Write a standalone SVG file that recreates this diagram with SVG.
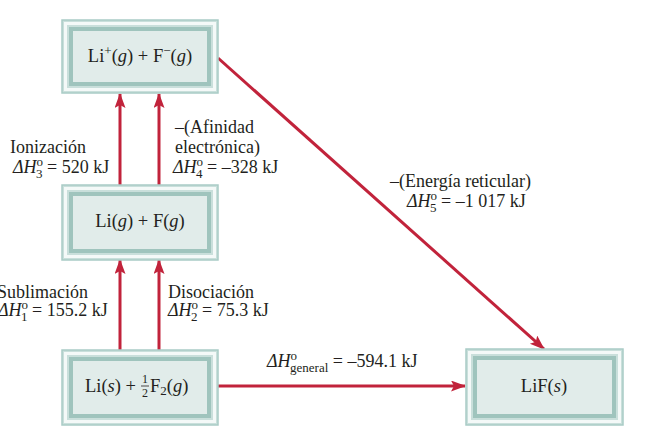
<svg xmlns="http://www.w3.org/2000/svg" width="653" height="437" viewBox="0 0 653 437">
<defs>
<marker id="ah" markerUnits="userSpaceOnUse" markerWidth="16" markerHeight="12" refX="14" refY="5.5" orient="auto">
<path d="M0,0 L15,5.5 L0,11 L3,5.5 z" fill="#c1233b"/>
</marker>
<style>
text{font-family:"Liberation Serif","Times New Roman",serif;fill:#231f20;font-size:18px}
.bt{font-size:18.5px;text-anchor:middle}
.o1{fill:#c9dfdb;stroke:#a9ccc6;stroke-width:1.5}
.o2{fill:none;stroke:#f4f9f8;stroke-width:3}
.o3{fill:#e1ecea;stroke:#9fc4bd;stroke-width:4}
.ar{stroke:#c1233b;stroke-width:3;fill:none;marker-end:url(#ah)}
.s{font-size:13px}
.i{font-style:italic}
</style>
</defs>
<g id="connectors">
<line class="ar" x1="120" y1="185" x2="120" y2="94"/>
<line class="ar" x1="159" y1="185" x2="159" y2="94"/>
<line class="ar" x1="120" y1="350" x2="120" y2="260"/>
<line class="ar" x1="159" y1="350" x2="159" y2="260"/>
<line class="ar" x1="218" y1="386" x2="465" y2="386"/>
<line class="ar" x1="218" y1="58" x2="544" y2="349"/>
</g>
<g id="n1">
<rect class="o1" x="62" y="20" width="156" height="73"/>
<rect class="o2" x="65.5" y="23.5" width="149" height="66"/>
<rect class="o3" x="71" y="29" width="138" height="55"/>
<text class="bt" x="140" y="62">Li<tspan class="s" dy="-7">+</tspan><tspan dy="7">(</tspan><tspan class="i">g</tspan>) + F<tspan class="s" dy="-7">−</tspan><tspan dy="7">(</tspan><tspan class="i">g</tspan>)</text>
</g>
<g id="n2">
<rect class="o1" x="62" y="185" width="156" height="75"/>
<rect class="o2" x="65.5" y="188.5" width="149" height="68"/>
<rect class="o3" x="71" y="194" width="138" height="57"/>
<text class="bt" x="140" y="227">Li(<tspan class="i">g</tspan>) + F(<tspan class="i">g</tspan>)</text>
</g>
<g id="n3">
<rect class="o1" x="62" y="350" width="156" height="75"/>
<rect class="o2" x="65.5" y="353.5" width="149" height="68"/>
<rect class="o3" x="71" y="359" width="138" height="57"/>
<text x="85" y="392" style="font-size:18.5px">Li(<tspan class="i">s</tspan>) +</text>
<text x="145" y="383" style="font-size:12px;text-anchor:middle">1</text>
<line x1="141" y1="386" x2="149" y2="386" stroke="#231f20" stroke-width="0.8"/>
<text x="145" y="397" style="font-size:12px;text-anchor:middle">2</text>
<text x="150" y="392" style="font-size:18.5px">F<tspan class="s" dy="3">2</tspan><tspan dy="-3">(</tspan><tspan class="i">g</tspan>)</text>
</g>
<g id="n4">
<rect class="o1" x="466" y="349" width="157" height="76"/>
<rect class="o2" x="469.5" y="352.5" width="150" height="69"/>
<rect class="o3" x="475" y="358" width="139" height="58"/>
<text class="bt" x="544" y="392">LiF(<tspan class="i">s</tspan>)</text>
</g>
<g id="labels">
<text x="10" y="153">Ionización</text>
<text x="13" y="173"><tspan class="i">ΔH</tspan><tspan class="s" dy="-7">o</tspan><tspan class="s" dx="-7" dy="12">3</tspan><tspan dy="-5"> = 520 kJ</tspan></text>
<text x="175" y="133">–(Afinidad</text>
<text x="175" y="153">electrónica)</text>
<text x="173" y="173"><tspan class="i">ΔH</tspan><tspan class="s" dy="-7">o</tspan><tspan class="s" dx="-7" dy="12">4</tspan><tspan dy="-5"> = –328 kJ</tspan></text>
<text x="-3" y="298">Sublimación</text>
<text x="-2" y="316"><tspan class="i">ΔH</tspan><tspan class="s" dy="-7">o</tspan><tspan class="s" dx="-7" dy="12">1</tspan><tspan dy="-5"> = 155.2 kJ</tspan></text>
<text x="168" y="298">Disociación</text>
<text x="168" y="316"><tspan class="i">ΔH</tspan><tspan class="s" dy="-7">o</tspan><tspan class="s" dx="-7" dy="12">2</tspan><tspan dy="-5"> = 75.3 kJ</tspan></text>
<text x="267" y="367"><tspan class="i">ΔH</tspan><tspan class="s" dy="-7">o</tspan><tspan class="s" dx="-7" dy="12">general</tspan><tspan dy="-5"> = –594.1 kJ</tspan></text>
<text x="390" y="187">–(Energía reticular)</text>
<text x="407" y="207"><tspan class="i">ΔH</tspan><tspan class="s" dy="-7">o</tspan><tspan class="s" dx="-7" dy="12">5</tspan><tspan dy="-5"> = –1 017 kJ</tspan></text>
</g>
</svg>
